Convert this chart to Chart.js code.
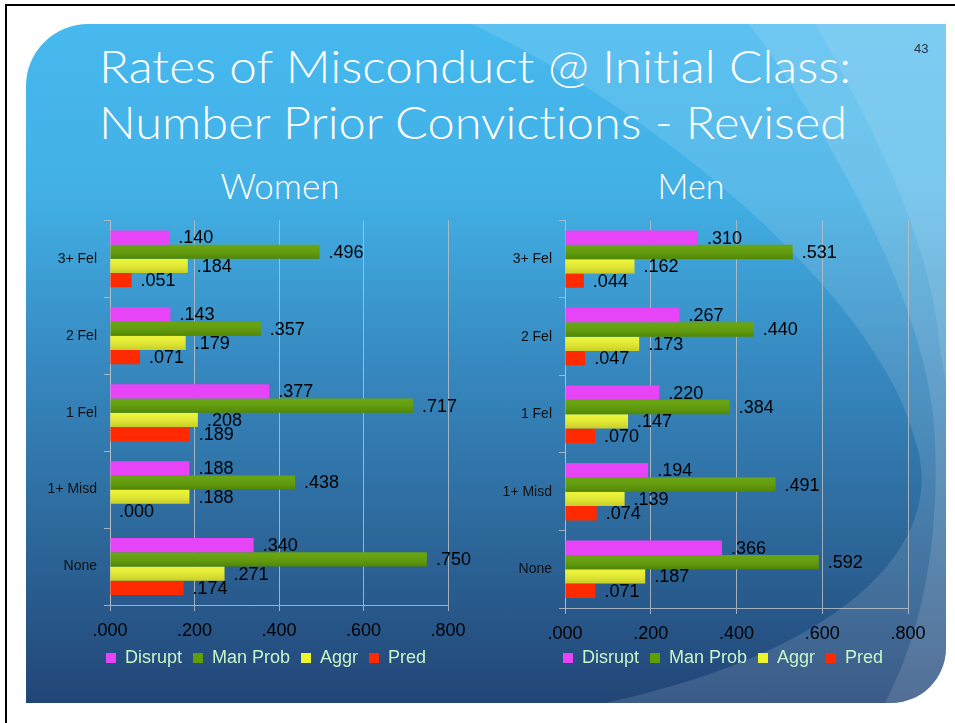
<!DOCTYPE html>
<html>
<head>
<meta charset="utf-8">
<script src="https://cdn.jsdelivr.net/npm/chart.js@4.4.1/dist/chart.umd.min.js"></script>
<style>
  body { margin: 0; background: #fff; }
  #slide { position: relative; width: 955px; height: 723px; overflow: hidden; background: #fff; }
  #frame { position: absolute; left: 5px; top: 4px; width: 980px; height: 760px; border-left: 2px solid #000; border-top: 2px solid #000; }
  #panel {
    position: absolute; left: 26px; top: 24px; width: 920px; height: 679px; overflow: hidden;
    border-radius: 62px 0 55px 0;
    background: linear-gradient(to bottom, #46b9ef 0%, #42b0e5 25%, #3689c0 50%, #2d689b 75%, #224577 100%);
  }
  #panel svg { position: absolute; left: -26px; top: -24px; }
  .txt { position: absolute; white-space: nowrap; color: #fff; line-height: 1; font-variant-ligatures: none; }
  .title { font-family: Lato, sans-serif; font-weight: 300; font-size: 45px; transform-origin: left center; }
  .sub { font-family: Lato, sans-serif; font-weight: 300; font-size: 35px; }
  #pagenum { font-family: "Liberation Sans", sans-serif; font-size: 13px; color: #203a55; left: 914px; top: 42px; }
  canvas { position: absolute; }
</style>
</head>
<body>
<div id="slide">
  <div id="frame"></div>
  <div id="panel">
    <svg width="955" height="723" viewBox="0 0 955 723">
      <path d="M463,20 C660,110 880,300 915,440 C950,540 850,660 560,712 L960,712 L960,20 Z" fill="#ffffff" fill-opacity="0.12"/>
      <path d="M746,20 C820,120 930,300 935,440 C940,560 915,650 880,712 L960,712 L960,20 Z" fill="#ffffff" fill-opacity="0.12"/>
      <path d="M813,20 C870,120 925,230 938,330 C942,370 948,400 962,420 L962,20 Z" fill="#ffffff" fill-opacity="0.1"/>
    </svg>
  </div>
  <div class="txt title" style="left:99px; top:44px;" data-w="752">Rates of Misconduct @ Initial Class:</div>
  <div class="txt title" style="left:99px; top:100px;" data-w="748">Number Prior Convictions - Revised</div>
  <div class="txt sub" style="left:280px; top:168px; transform: translateX(-50%);" data-w="119">Women</div>
  <div class="txt sub" style="left:691px; top:168px; transform: translateX(-50%);" data-w="67">Men</div>
  <div class="txt" id="pagenum">43</div>
  <canvas id="womenChart" width="450" height="472" style="left:30px; top:205px;"></canvas>
  <canvas id="menChart" width="450" height="475" style="left:490px; top:205px;"></canvas>
</div>

<script>
// Data
const categories = ['3+ Fel', '2 Fel', '1 Fel', '1+ Misd', 'None'];
const seriesNames = ['Disrupt', 'Man Prob', 'Aggr', 'Pred'];
const seriesColors = ['#e644f6', '#5f9f02', '#ecf42c', '#ff2a00'];
const xTicks = [0, 0.2, 0.4, 0.6, 0.8];

const womenDisrupt = [0.140, 0.143, 0.377, 0.188, 0.340];
const womenManProb = [0.496, 0.357, 0.717, 0.438, 0.750];
const womenAggr = [0.184, 0.179, 0.208, 0.188, 0.271];
const womenPred = [0.051, 0.071, 0.189, 0.000, 0.174];

const menDisrupt = [0.310, 0.267, 0.220, 0.194, 0.366];
const menManProb = [0.531, 0.440, 0.384, 0.491, 0.592];
const menAggr = [0.162, 0.173, 0.147, 0.139, 0.187];
const menPred = [0.044, 0.047, 0.070, 0.074, 0.071];

// fit headings to the widths on the slide
document.querySelectorAll('[data-w]').forEach(function(el) {
    const k = el.dataset.w / el.getBoundingClientRect().width;
    el.style.transform = (el.style.transform || '') + ' scaleX(' + k.toFixed(3) + ')';
});

function fmt(v) {
    return v.toFixed(3).replace(/^0/, '');
}

Chart.defaults.font.family = '"Liberation Sans", sans-serif';

// shading on green/yellow bars, then value labels next to each bar
const barValues = {
    id: 'barValues',
    afterDatasetsDraw(chart) {
        const ctx = chart.ctx;
        ctx.save();
        [1, 2].forEach(i => {
            chart.getDatasetMeta(i).data.forEach(bar => {
                const top = bar.y - bar.height / 2;
                const g = ctx.createLinearGradient(0, top, 0, top + bar.height);
                g.addColorStop(0, 'rgba(255,255,255,0.06)');
                g.addColorStop(1, 'rgba(0,0,0,0.16)');
                ctx.fillStyle = g;
                ctx.fillRect(bar.base, top, bar.x - bar.base, bar.height);
            });
        });
        ctx.font = '18px "Liberation Sans", sans-serif';
        ctx.fillStyle = '#000';
        ctx.textBaseline = 'middle';
        ctx.textAlign = 'left';
        chart.data.datasets.forEach((ds, i) => {
            chart.getDatasetMeta(i).data.forEach((bar, j) => {
                ctx.fillText(fmt(ds.data[j]), bar.x + 9, bar.y + 1);
            });
        });
        ctx.restore();
    }
};

// nudge the legend row
const legendShift = {
    id: 'legendShift',
    afterLayout(chart, args, opts) {
        const lg = chart.legend;
        if (lg) {
            lg.left += opts.dx || 0;
            lg.right += opts.dx || 0;
            lg.top += opts.dy || 0;
            lg.bottom += opts.dy || 0;
        }
    }
};

function makeChart(id, values, axisWidth, shift, lift) {
    const gridColor = 'rgba(185,190,196,0.85)';
    return new Chart(document.getElementById(id), {
        type: 'bar',
        data: {
            labels: categories,
            datasets: values.map((data, i) => ({
                label: seriesNames[i],
                data: data,
                backgroundColor: seriesColors[i],
                borderWidth: 0,
                categoryPercentage: 0.74,
                barPercentage: 1.0
            }))
        },
        options: {
            indexAxis: 'y',
            responsive: false,
            animation: false,
            layout: { padding: { top: 10, right: 32, left: 0, bottom: 0 } },
            scales: {
                x: {
                    min: 0,
                    max: 0.8,
                    afterBuildTicks: scale => { scale.ticks = xTicks.map(v => ({ value: v })); },
                    afterFit: scale => { scale.height = 33; },
                    grid: { color: gridColor, tickLength: 6 },
                    border: { color: gridColor },
                    ticks: {
                        color: '#000',
                        font: { size: 18 },
                        padding: 9,
                        maxRotation: 0,
                        callback: v => fmt(v)
                    }
                },
                y: {
                    afterFit: scale => { scale.width = axisWidth; },
                    grid: { drawOnChartArea: false, offset: true, tickLength: 6, color: gridColor },
                    border: { color: gridColor },
                    ticks: { color: '#111', font: { size: 14 }, padding: 7 }
                }
            },
            plugins: {
                legend: {
                    position: 'bottom',
                    labels: {
                        boxWidth: 10,
                        boxHeight: 10,
                        color: '#c8f5c8',
                        font: { size: 18 },
                        padding: 11
                    }
                },
                legendShift: { dx: shift, dy: lift },
                tooltip: { enabled: false }
            }
        },
        plugins: [barValues, legendShift]
    });
}

makeChart('womenChart', [womenDisrupt, womenManProb, womenAggr, womenPred], 80, 27, 0);
makeChart('menChart', [menDisrupt, menManProb, menAggr, menPred], 75, 24, -3);
</script>
</body>
</html>
